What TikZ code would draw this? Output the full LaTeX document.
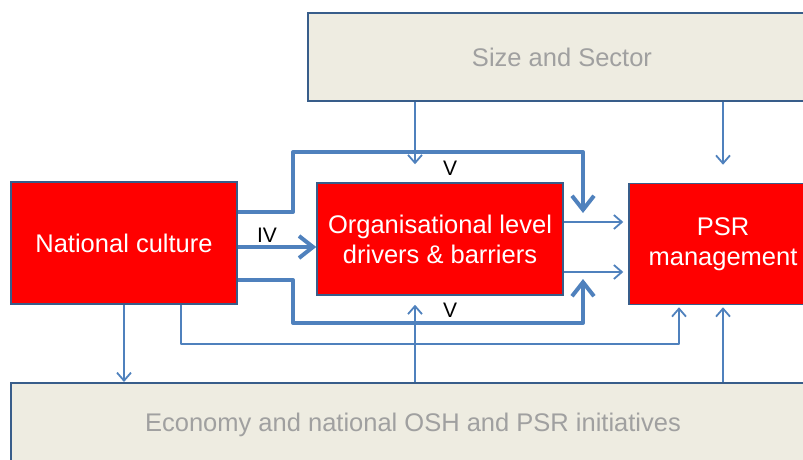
\documentclass[tikz,border=0pt]{standalone}
\usepackage{fontspec}
\setmainfont{Liberation Sans}
\usetikzlibrary{arrows.meta}
\definecolor{boxred}{RGB}{255,0,0}
\definecolor{boxedge}{RGB}{56,93,138}
\definecolor{linkblue}{RGB}{79,129,189}
\definecolor{framefill}{RGB}{238,236,225}
\definecolor{frametext}{RGB}{160,160,160}
\tikzset{
  redbox/.style={draw=boxedge, fill=boxred, line width=1.5pt, text=white,
    align=center, inner sep=0pt, font=\fontsize{25.5}{30}\selectfont},
  framebox/.style={draw=boxedge, fill=framefill, line width=2pt, text=frametext,
    inner sep=0pt, font=\fontsize{25.5}{30}\selectfont},
  thinlink/.style={draw=linkblue, line width=1.8pt, line join=round,
    -{Straight Barb[length=8pt,width=14pt]}},
  thicklink/.style={draw=linkblue, line width=4pt, line join=round,
    -{Straight Barb[length=14pt,width=22pt]}},
  numeral/.style={font=\fontsize{21}{24}\selectfont, inner sep=0pt}
}
\begin{document}
\begin{tikzpicture}[x=1pt, y=-1pt]
	\useasboundingbox (0,0) rectangle (803,460);
	\clip (0,0) rectangle (803,460);
	% outer frames
	\node[framebox, minimum width=508pt, minimum height=88pt] (size) at (562,57) {Size and Sector};
	\node[framebox, minimum width=804pt, minimum height=84pt] (econ) at (413,425) {Economy and national OSH and PSR initiatives};
	% red boxes
	\node[redbox, minimum width=226pt, minimum height=122pt] (nat) at (124,243) {National culture};
	\node[redbox, minimum width=246pt, minimum height=112pt] (org) at (440,239) {Organisational level\\drivers \& barriers};
	\node[redbox, minimum width=188pt, minimum height=121pt] (psr) at (723,244) {PSR\\management};
	% labels
	\node[numeral] (iv) at (267,235) {IV};
	\node[numeral] (vtop) at (450,168) {V};
	\node[numeral] (vbot) at (450,310) {V};
	% bends of the V links
	\coordinate (upA) at (293,212);
	\coordinate (upB) at (293,152);
	\coordinate (upC) at (583,152);
	\coordinate (upEnd) at (583,213);
	\coordinate (loA) at (293,280);
	\coordinate (loB) at (293,323);
	\coordinate (loC) at (583,323);
	\coordinate (loEnd) at (583,279);
	\draw[thicklink] (nat.east |- upA) -- (upA) -- (upB) -- (upC) -- (upEnd);
	\draw[thicklink] (nat.east |- loA) -- (loA) -- (loB) -- (loC) -- (loEnd);
	\draw[thicklink] ([yshift=-4pt]nat.east) -- ([yshift=-4pt]nat.east -| org.west);
	% organisation to PSR
	\draw[thinlink, shorten >=5pt] ([yshift=17pt]org.east) -- ([yshift=17pt]org.east -| psr.west);
	\draw[thinlink, shorten >=5pt] ([yshift=-33pt]org.east) -- ([yshift=-33pt]org.east -| psr.west);
	% size and sector
	\coordinate (sizeOrg) at (415,101);
	\draw[thinlink, shorten >=18pt] (size.south -| sizeOrg) -- (org.north -| sizeOrg);
	\draw[thinlink, shorten >=18pt] (size.south -| psr.north) -- (psr.north);
	% economy
	\draw[thinlink, shorten >=9pt] (econ.north -| sizeOrg) -- (org.south -| sizeOrg);
	\draw[thinlink, shorten >=2pt] (econ.north -| psr.south) -- (psr.south);
	\draw[thinlink] (nat.south) -- (econ.north -| nat.south);
	% national culture to PSR
	\coordinate (natA) at (181,344);
	\coordinate (natB) at (679,344);
	\draw[thinlink, shorten >=2pt] (nat.south -| natA) -- (natA) -- (natB) -- (psr.south -| natB);
\end{tikzpicture}
\end{document}
